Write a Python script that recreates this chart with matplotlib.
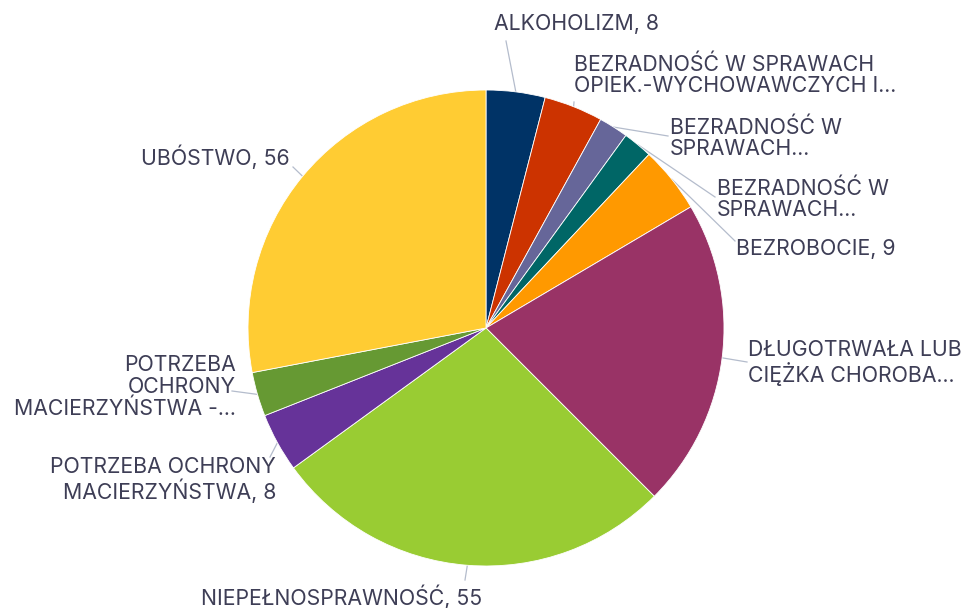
import numpy as np
import matplotlib
matplotlib.use('Agg')
import matplotlib.pyplot as plt

plt.rcParams['font.family'] = ['Inter', 'DejaVu Sans']

labels = ['ALKOHOLIZM, 8',
          'BEZRADNOŚĆ W SPRAWACH\nOPIEK.-WYCHOWAWCZYCH I...',
          'BEZRADNOŚĆ W\nSPRAWACH...',
          'BEZRADNOŚĆ W\nSPRAWACH...',
          'BEZROBOCIE, 9',
          'DŁUGOTRWAŁA LUB\nCIĘŻKA CHOROBA...',
          'NIEPEŁNOSPRAWNOŚĆ, 55',
          'POTRZEBA OCHRONY\nMACIERZYŃSTWA, 8',
          'POTRZEBA\nOCHRONY\nMACIERZYŃSTWA -...',
          'UBÓSTWO, 56']
values = [8, 8, 4, 4, 9, 42, 55, 8, 6, 56]
colors = ['#003366', '#cc3300', '#666699', '#006666', '#ff9900',
          '#993366', '#99cc33', '#663399', '#669933', '#ffcc33']

# label layout in pixels: (x, y, ha, leader end x, leader end y)
W, H = 970, 608
cx, cy, R = 486, 328, 238
layout = [(494, 24, 'left', 506, 41),
          (574, 75, 'left', 574, 102),
          (670, 138, 'left', 668, 136),
          (717, 199, 'left', 715, 197),
          (736, 249, 'left', 735, 241),
          (748, 363, 'left', 747, 362),
          (342, 597, 'center', 465, 580),
          (276, 480, 'right', 270, 457),
          (236, 387, 'right', 232, 391),
          (290, 157, 'right', 293, 167)]

def px(x, y):
    return (x - cx) / R, (cy - y) / R

fig = plt.figure(figsize=(W / 100, H / 100), dpi=100)
ax = fig.add_axes([0, 0, 1, 1])
wedges, _ = ax.pie(values, colors=colors, startangle=90, counterclock=False,
                   radius=1, wedgeprops=dict(edgecolor='white', linewidth=0.6))
ax.set_aspect('auto')
ax.set_xlim(-cx / R, (W - cx) / R)
ax.set_ylim(-(H - cy) / R, cy / R)
ax.axis('off')

for w, lab, (tx, ty, ha, lx, ly) in zip(wedges, labels, layout):
    mid = np.deg2rad((w.theta1 + w.theta2) / 2)
    sx, sy = np.cos(mid), np.sin(mid)
    ex, ey = px(lx, ly)
    ax.plot([sx, ex], [sy, ey], color='#b4bccc', lw=0.9, zorder=0)
    x, y = px(tx, ty)
    ax.text(x, y, lab, ha=ha, va='center', multialignment=ha if ha != 'center' else 'center',
            fontsize=15.3, color='#3e3e56', linespacing=1.08)

fig.savefig('out.png', dpi=100)
